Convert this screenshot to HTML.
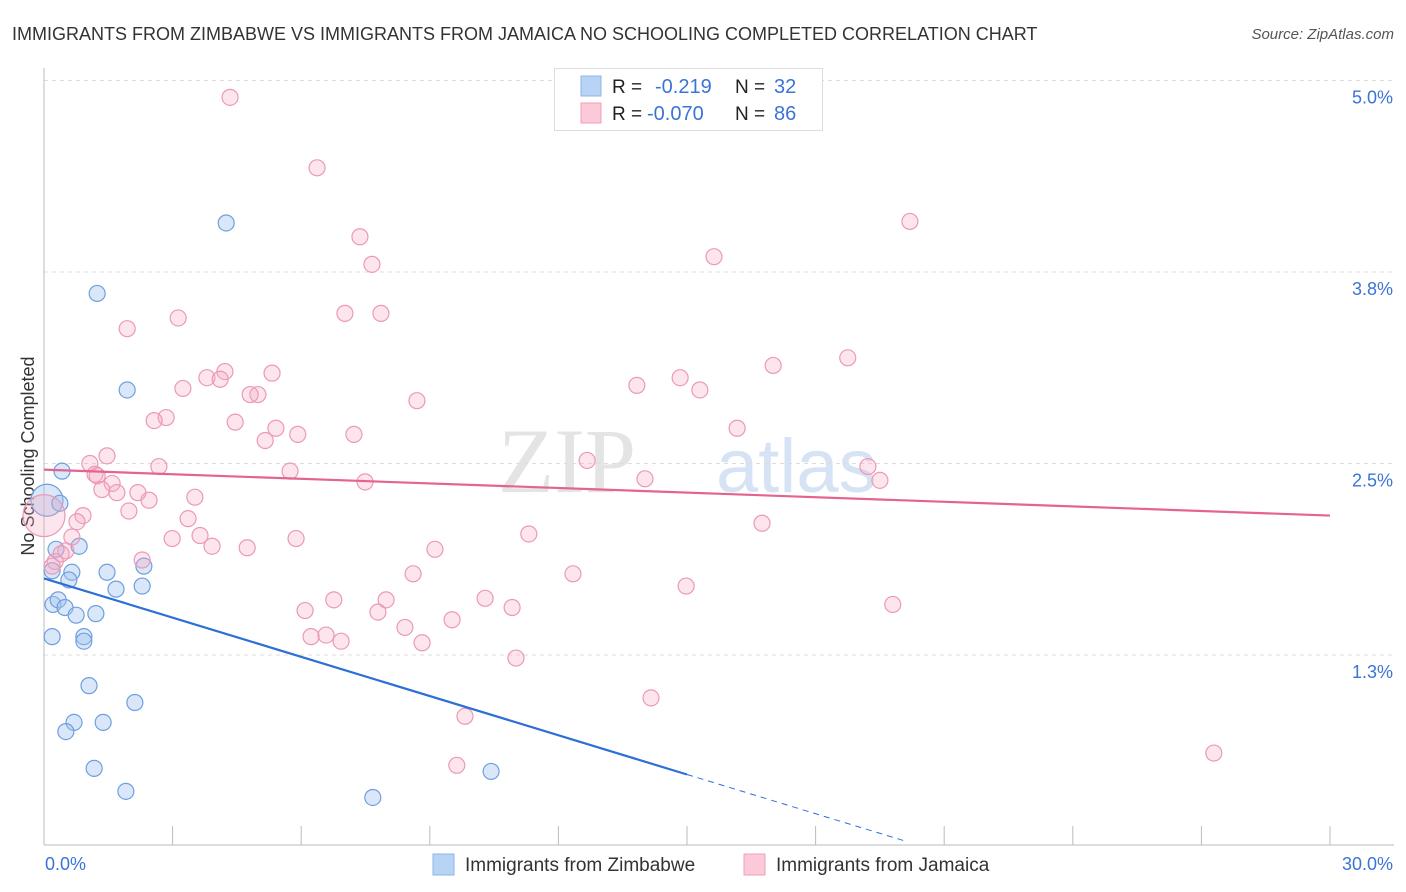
<!DOCTYPE html>
<html><head><meta charset="utf-8"><style>
body{margin:0;background:#fff;font-family:"Liberation Sans",sans-serif;}
#wrap{position:relative;width:1406px;height:892px;overflow:hidden;}
</style></head><body>
<div id="wrap">
<svg id="chart" width="1406" height="892">
<text x="12" y="40" font-size="18" fill="#333">IMMIGRANTS FROM ZIMBABWE VS IMMIGRANTS FROM JAMAICA NO SCHOOLING COMPLETED CORRELATION CHART</text>
<text x="1394" y="39" font-size="15" fill="#555" font-style="italic" text-anchor="end">Source: ZipAtlas.com</text>
<text x="34" y="456" font-size="18" fill="#333" text-anchor="middle" transform="rotate(-90 34 456)">No Schooling Completed</text>
<text x="636" y="492" font-size="92" fill="#e4e4e4" font-family="Liberation Serif" text-anchor="end">ZIP</text>
<text x="716" y="492" font-size="76" fill="#d6e3f4">atlas</text>
<g id="grid"></g><g id="axes"></g><g id="pts"></g><g id="trend"></g>
<g>
<rect x="554.5" y="68.5" width="268" height="62" fill="#fff" stroke="#ddd"/>
<rect x="581" y="76" width="20" height="20" fill="#b7d3f6" stroke="#8fb4e6"/>
<rect x="581" y="103" width="20" height="20" fill="#fbc9d8" stroke="#eea1b9"/>
<text x="612" y="93" font-size="19" fill="#222">R = </text><text x="655" y="93" font-size="20" fill="#3b74d6">-0.219</text>
<text x="735" y="93" font-size="19" fill="#222">N = </text><text x="774" y="93" font-size="20" fill="#3b74d6">32</text>
<text x="612" y="120" font-size="19" fill="#222">R = </text><text x="647" y="120" font-size="20" fill="#3b74d6">-0.070</text>
<text x="735" y="120" font-size="19" fill="#222">N = </text><text x="774" y="120" font-size="20" fill="#3b74d6">86</text>
</g>
<g>
<rect x="433" y="854" width="21" height="21" fill="#b7d3f6" stroke="#8fb4e6"/>
<text x="465" y="871" font-size="19" fill="#333">Immigrants from Zimbabwe</text>
<rect x="744" y="854" width="21" height="21" fill="#fbc9d8" stroke="#eea1b9"/>
<text x="776" y="871" font-size="19" fill="#333">Immigrants from Jamaica</text>
</g>
</svg></div>
<script>
const yTicks=[1.25,2.5,3.75,5.0];
const yTickLabels=["1.3%","2.5%","3.8%","5.0%"];
const xTickLabels=["0.0%","30.0%"];
const zimX=[0.07,0.37,0.42,0.28,0.82,0.19,0.65,0.58,1.47,2.33,1.68,2.29,0.21,0.33,0.49,0.75,1.21,0.19,0.93,0.93,1.05,2.12,0.70,1.38,0.51,1.17,1.91,4.25,1.24,1.94,7.67,10.43];
const zimY=[2.26,2.24,2.45,1.94,1.96,1.80,1.79,1.74,1.79,1.83,1.68,1.70,1.58,1.61,1.56,1.51,1.52,1.37,1.37,1.34,1.05,0.94,0.81,0.81,0.75,0.51,0.36,4.07,3.61,2.98,0.32,0.49];
const jamX=[4.34,6.37,7.37,7.65,15.63,20.20,1.94,3.13,7.02,7.86,18.75,17.01,4.22,5.32,3.80,4.11,3.24,13.83,14.84,15.30,4.99,4.81,8.70,2.85,2.57,4.46,5.41,5.92,5.16,7.23,16.17,1.47,1.07,2.68,5.74,1.19,1.24,1.59,12.67,14.02,19.22,19.50,7.49,1.35,1.70,2.19,2.45,3.52,1.98,0.91,0.77,3.36,16.75,11.31,2.99,3.64,0.65,5.88,3.92,4.74,9.12,0.51,0.40,2.29,0.26,0.19,8.61,12.34,14.98,10.29,6.76,7.98,6.09,7.79,10.92,19.80,9.52,8.42,6.23,6.58,6.93,8.82,11.01,14.16,9.82,9.63,27.29,0.0];
const jamY=[4.89,4.43,3.98,3.80,3.85,4.08,3.38,3.45,3.48,3.48,3.19,3.14,3.10,3.09,3.06,3.05,2.99,3.01,3.06,2.98,2.95,2.95,2.91,2.80,2.78,2.77,2.73,2.69,2.65,2.69,2.73,2.55,2.50,2.48,2.45,2.43,2.42,2.37,2.52,2.40,2.48,2.39,2.38,2.33,2.31,2.31,2.26,2.28,2.19,2.16,2.12,2.14,2.11,2.04,2.01,2.03,2.02,2.01,1.96,1.95,1.94,1.93,1.91,1.87,1.86,1.83,1.78,1.78,1.70,1.62,1.61,1.61,1.54,1.53,1.56,1.58,1.48,1.43,1.37,1.38,1.34,1.33,1.23,0.97,0.85,0.53,0.61,2.16];
const zimTrend=[1.75,0.47,15,20.15];
const jamTrend=[2.46,2.16,0,30];
const X0=44,X1=1330,Yaxis=845;
const xs=v=>X0+v*(X1-X0)/30;
const ys=v=>655-(v-1.25)*153.2;
const NS='http://www.w3.org/2000/svg';
function mk(tag,parent,attrs){const e=document.createElementNS(NS,tag);for(const k in attrs)e.setAttribute(k,attrs[k]);parent.appendChild(e);return e;}
const grid=document.getElementById('grid'),axes=document.getElementById('axes'),pts=document.getElementById('pts'),tr=document.getElementById('trend');
yTicks.forEach((t,i)=>{
 const l=mk('line',grid,{x1:X0,x2:1394,y1:ys(t),y2:ys(t),stroke:'#ddd','stroke-dasharray':'4,4'});
 
 
 const tx=mk('text',grid,{x:1393,y:ys(t)+23,'font-size':18,fill:'#3b74d6','text-anchor':'end'});
 tx.textContent=yTickLabels[i];
 
 
});
const ya=mk('line',axes,{x1:X0,x2:X0,y1:68,y2:Yaxis,stroke:'#bbb'});


const xa=mk('line',axes,{x1:X0,x2:1394,y1:Yaxis,y2:Yaxis,stroke:'#bbb'});


for(let k=1;k<=10;k++){const t=mk('line',axes,{x1:xs(k*3),x2:xs(k*3),y1:826,y2:Yaxis,stroke:'#bbb'});
 
 }
[[0,'start',45],[30,'end',1393]].forEach((a,i)=>{const t=mk('text',axes,{x:a[2],y:870,'font-size':18,fill:'#3b74d6','text-anchor':a[1]});t.textContent=xTickLabels[i];
 
 });
zimX.forEach((x,i)=>{const r=(i===0)?16:8;const c=mk('circle',pts,{cx:xs(x),cy:ys(zimY[i]),r:r,fill:'rgba(160,195,240,0.4)',stroke:'#6f9fe0','stroke-width':1.2});
 
 });
jamX.forEach((x,i)=>{const r=(i===jamX.length-1)?21:8;const c=mk('circle',pts,{cx:xs(x),cy:ys(jamY[i]),r:r,fill:'rgba(246,170,196,0.3)',stroke:'#ec99b5','stroke-width':1.2});
 
 });
const slopeZ=(zimTrend[1]-zimTrend[0])/zimTrend[2];
const zl=mk('line',tr,{x1:xs(0),y1:ys(zimTrend[0]),x2:xs(zimTrend[2]),y2:ys(zimTrend[1]),stroke:'#2c6fd6','stroke-width':2.2});


const zd=mk('line',tr,{x1:xs(zimTrend[2]),y1:ys(zimTrend[1]),x2:xs(zimTrend[3]),y2:ys(zimTrend[0]+slopeZ*zimTrend[3]),stroke:'#2c6fd6','stroke-width':1,'stroke-dasharray':'6,5'});


const jl=mk('line',tr,{x1:xs(jamTrend[2]),y1:ys(jamTrend[0]),x2:xs(jamTrend[3]),y2:ys(jamTrend[1]),stroke:'#e5638f','stroke-width':2.2});


</script>
</body></html>
